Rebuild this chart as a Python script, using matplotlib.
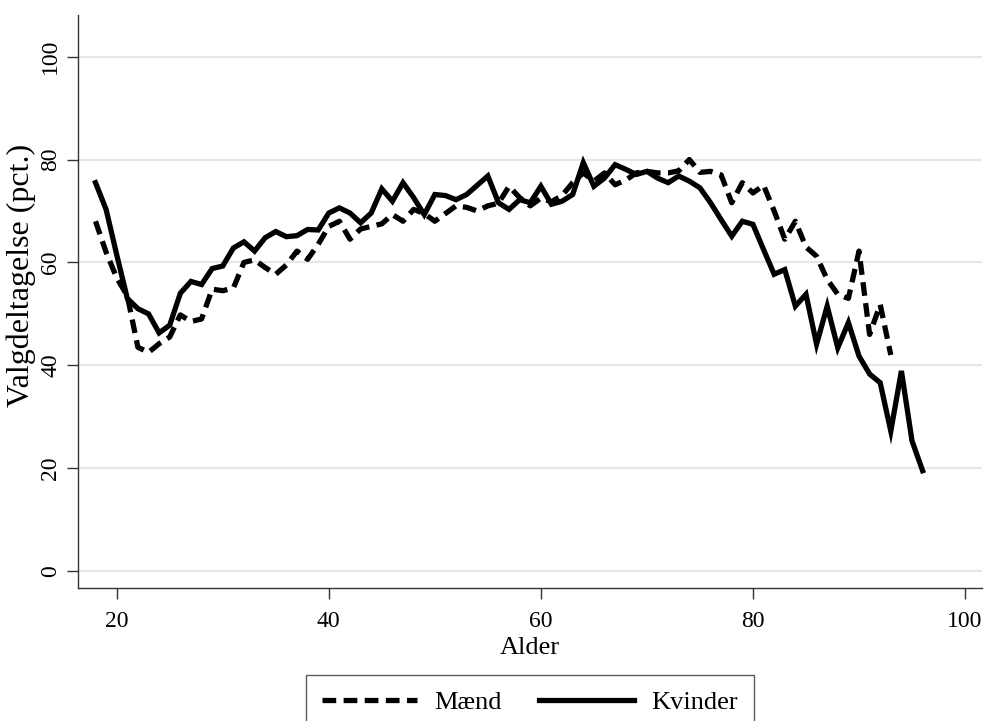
import numpy as np
import matplotlib
matplotlib.use("Agg")
import matplotlib.pyplot as plt

plt.rcParams['font.family'] = ['Liberation Serif', 'DejaVu Serif']

# ages
ages_m = np.arange(18, 94)
ages_w = np.arange(18, 97)

# turnout men (dashed), 18-93
maend = [68, 62, 57, 53.5, 43.5, 42.5, 44.2, 45.5, 49.8, 48.5,
         49, 54.8, 54.5, 55, 60, 60.5, 59, 57.7, 59.5, 62.2,
         60.6, 63.5, 67, 68, 64.5, 66.5, 67, 67.5, 69.3, 68,
         70.3, 69.5, 68, 69.5, 71, 70.7, 70, 71, 71.5, 74.8,
         72.6, 71, 72.5, 71.8, 73, 75.5, 77.4, 75.8, 77.4, 75.1,
         76, 77.4, 77.7, 77.4, 77.4, 77.8, 80, 77.5, 77.7, 77,
         71.6, 75.5, 73.5, 75, 70, 64.5, 68, 63, 61.2, 56.7,
         53.8, 53, 62.2, 46, 51.8, 42]

# turnout women (solid), 18-96
kvinder = [75.5, 70.3, 61.5, 53, 51, 50, 46.3, 47.8, 54, 56.3,
           55.7, 58.8, 59.3, 62.8, 64, 62.2, 64.8, 66, 65, 65.2,
           66.4, 66.3, 69.6, 70.6, 69.6, 67.7, 69.6, 74.3, 71.9, 75.5,
           72.6, 69.3, 73.2, 73, 72.2, 73.2, 75, 76.8, 71.6, 70.3,
           72.2, 71.6, 74.8, 71.3, 71.9, 73.2, 79.4, 74.8, 76.4, 79,
           78.1, 77.1, 77.7, 76.4, 75.5, 76.8, 75.8, 74.5, 71.6, 68.3,
           65.1, 68, 67.4, 62.5, 57.7, 58.6, 51.5, 53.8, 44.1, 51.5,
           43.4, 48.3, 41.8, 38.3, 36.6, 27.2, 38.9, 25.3, 19.5]

fig = plt.figure(figsize=(9.89, 7.21), dpi=100)
ax = fig.add_axes([78/989, 1 - 588/721, 904/989, 573/721])

ax.plot(ages_m, maend, color='black', lw=3.8, ls=(0, (2.6, 1.4)),
        solid_joinstyle='miter', dash_capstyle='butt', label='Mænd')
ax.plot(ages_w, kvinder, color='black', lw=3.8, solid_joinstyle='miter',
        label='Kvinder')

ax.set_xlim(16.35, 101.6)
ax.set_ylim(-3.3, 108.1)
ax.set_xticks([20, 40, 60, 80, 100])
ax.set_yticks([0, 20, 40, 60, 80, 100])
ax.grid(axis='y', color='#e6e6e6', lw=1.5)
ax.set_axisbelow(True)

for s in ['top', 'right']:
    ax.spines[s].set_visible(False)
for s in ['left', 'bottom']:
    ax.spines[s].set_color('#333333')
    ax.spines[s].set_linewidth(1.0)

ax.tick_params(axis='both', length=8, width=1, color='#333333',
               labelsize=17)
ax.tick_params(axis='x', pad=8.5)
ax.tick_params(axis='y', pad=4)
plt.setp(ax.get_yticklabels(), rotation=90, va='center')

ax.set_xlabel('Alder', fontsize=19, labelpad=4)
ax.set_ylabel('Valgdeltagelse (pct.)', fontsize=23, labelpad=3, y=0.545)

leg = fig.legend(loc='upper center', bbox_to_anchor=(530/989, 1 - 675/721),
                 ncol=2, fontsize=19, frameon=True, fancybox=False,
                 handlelength=3.6, handletextpad=0.65, columnspacing=1.4,
                 borderpad=0.6, borderaxespad=0)
leg.get_frame().set_edgecolor('#333333')
leg.get_frame().set_linewidth(1.0)

fig.savefig('out.png', dpi=100)
